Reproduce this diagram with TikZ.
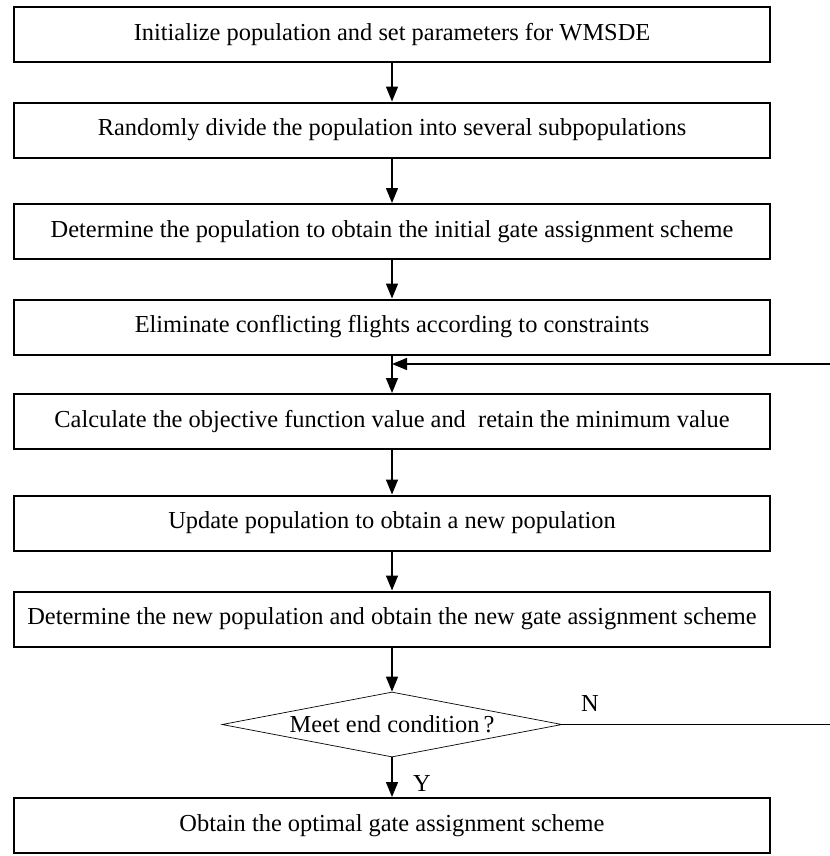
\documentclass[tikz,border=0pt]{standalone}
\usepackage{fontspec}
\setmainfont{Liberation Serif}
\usetikzlibrary{arrows.meta,shapes.geometric}
\begin{document}
\begin{tikzpicture}[x=1bp,y=-1bp,
  font=\fontsize{24.5}{28}\selectfont,
  stepbox/.style={draw=black,line width=2bp,minimum width=756bp,minimum height=55bp,inner sep=0pt},
  decision/.style={draw=black,line width=0.7bp,shape=diamond,aspect=5.2,minimum width=340bp,minimum height=65bp,inner sep=0pt},
  flow/.style={line width=1.4bp,-{Triangle[length=15bp,width=12bp]}},
  plain/.style={line width=1.3bp},
  lbl/.style={inner sep=0pt}]
\useasboundingbox (0,0) rectangle (830,856);
\node[stepbox] (b1) at (392,34.5) {Initialize population and set parameters for WMSDE};
\node[stepbox] (b2) at (392,130) {Randomly divide the population into several subpopulations};
\node[stepbox] (b3) at (392,231.5) {Determine the population to obtain the initial gate assignment scheme};
\node[stepbox] (b4) at (392,327) {Eliminate conflicting flights according to constraints};
\node[stepbox] (b5) at (392,421.5) {Calculate the objective function value and\ \ retain the minimum value};
\node[stepbox] (b6) at (392,523) {Update population to obtain a new population};
\node[stepbox] (b7) at (392,619) {Determine the new population and obtain the new gate assignment scheme};
\node[decision] (d) at (392,724.5) {Meet end condition\,?};
\node[stepbox] (b8) at (392,825.5) {Obtain the optimal gate assignment scheme};
\node[lbl] (ylab) at (422,783) {Y};
\node[lbl] (nlab) at (590,703) {N};
\coordinate (fbR) at (832,364);
\coordinate (fbJ) at (392,364);
\coordinate (nR) at (832,724.5);
\draw[flow] (b1) -- (b2);
\draw[flow] (b2) -- (b3);
\draw[flow] (b3) -- (b4);
\draw[flow] (b4) -- (b5);
\draw[flow] (b5) -- (b6);
\draw[flow] (b6) -- (b7);
\draw[flow] (b7) -- (d);
\draw[flow] (d) -- (b8);
\draw[flow] (fbR) -- (fbJ);
\draw[plain] (d.east) -- (nR);
\end{tikzpicture}
\end{document}
